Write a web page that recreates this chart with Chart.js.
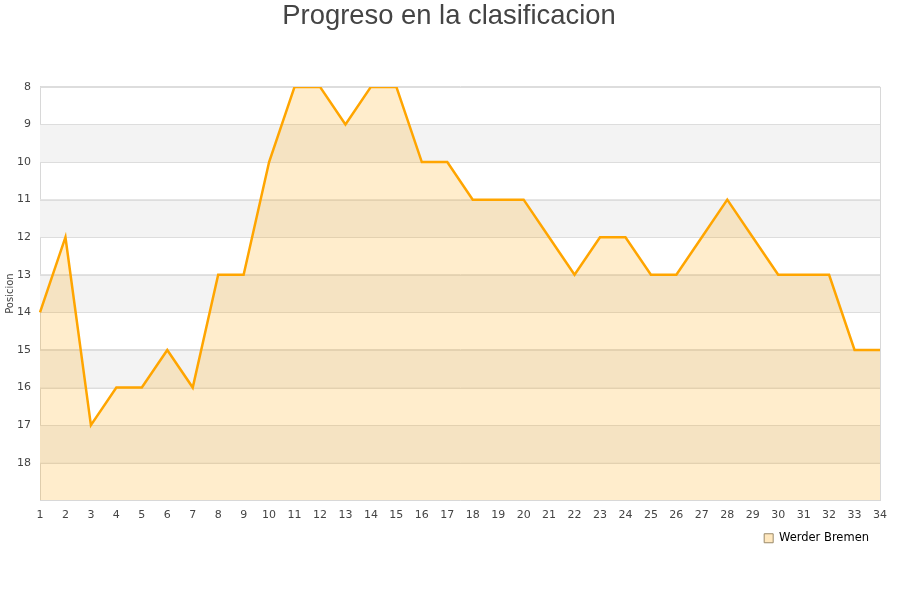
<!DOCTYPE html>
<html>
<head>
<meta charset="utf-8">
<script src="https://cdn.jsdelivr.net/npm/chart.js@4.4.0/dist/chart.umd.min.js"></script>
<style>
  body { margin: 0; background: #fff; }
  #wrap { width: 900px; height: 600px; }
</style>
</head>
<body>
<div id="wrap"><canvas id="graf"></canvas></div>
<script>
// jornadas y posiciones
const jornadas = [1,2,3,4,5,6,7,8,9,10,11,12,13,14,15,16,17,18,19,20,21,22,23,24,25,26,27,28,29,30,31,32,33,34];
const posiciones = [14,12,17,16,16,15,16,13,13,10,8,8,9,8,8,10,10,11,11,11,12,13,12,12,13,13,12,11,12,13,13,13,15,15];
const equipo = 'Werder Bremen';
const posMin = 8;
const posMax = 19;

// bandas grises alternas + borde derecho
const bandas = {
  id: 'bandas',
  beforeDatasetsDraw(chart) {
    const ctx = chart.ctx;
    const y = chart.scales.y;
    const area = chart.chartArea;
    ctx.save();
    ctx.fillStyle = '#f3f3f3';
    for (let v = posMin + 1; v < posMax; v += 2) {
      const y1 = y.getPixelForValue(v);
      const y2 = y.getPixelForValue(v + 1);
      ctx.fillRect(area.left, y1, area.right - area.left, y2 - y1);
    }
    // redibujar lineas de la rejilla encima
    ctx.strokeStyle = '#dddddd';
    ctx.lineWidth = 1;
    for (let v = posMin; v < posMax; v++) {
      const py = Math.round(y.getPixelForValue(v)) + 0.5;
      ctx.beginPath();
      ctx.moveTo(area.left, py);
      ctx.lineTo(area.right, py);
      ctx.stroke();
    }
    ctx.strokeStyle = '#d8d8d8';
    ctx.beginPath();
    ctx.moveTo(Math.round(area.right) + 0.5, area.top);
    ctx.lineTo(Math.round(area.right) + 0.5, area.bottom);
    ctx.stroke();
    ctx.restore();
  }
};

const ctx = document.getElementById('graf').getContext('2d');
const graf = new Chart(ctx, {
  type: 'line',
  data: {
    labels: jornadas,
    datasets: [{
      label: equipo,
      data: posiciones,
      borderColor: '#ffa500',
      backgroundColor: 'rgba(255,165,0,0.2)',
      borderWidth: 2.5,
      pointRadius: 0,
      tension: 0,
      fill: { value: posMax }
    }]
  },
  options: {
    responsive: true,
    maintainAspectRatio: false,
    animation: false,
    layout: { padding: { left: 4, right: 6, top: 0, bottom: 46 } },
    plugins: {
      title: {
        display: true,
        text: 'Progreso en la clasificacion',
        color: '#444',
        font: { family: 'Liberation Sans', size: 27.4, weight: 'normal' },
        padding: { top: 0, bottom: 54 }
      },
      legend: {
        position: 'bottom',
        align: 'end',
        fullSize: false,
        labels: {
          boxWidth: 9,
          boxHeight: 9,
          padding: 11,
          color: '#222',
          font: { family: 'DejaVu Sans', size: 11.5 },
          generateLabels(chart) {
            return [{
              text: equipo,
              fillStyle: 'rgba(255,165,0,0.25)',
              strokeStyle: '#9a8a6a',
              lineWidth: 1,
              datasetIndex: 0
            }];
          }
        }
      },
      tooltip: { enabled: false }
    },
    scales: {
      x: {
        type: 'category',
        offset: false,
        grid: { display: false },
        border: { color: '#d8d8d8' },
        ticks: {
          color: '#444',
          font: { family: 'DejaVu Sans', size: 11 },
          maxRotation: 0,
          autoSkip: false,
          padding: 0
        }
      },
      y: {
        reverse: true,
        min: posMin,
        max: posMax,
        border: { color: '#d8d8d8' },
        grid: { color: '#dddddd', drawTicks: false },
        title: {
          display: true,
          text: 'Posicion',
          color: '#444',
          font: { family: 'DejaVu Sans', size: 10 },
          padding: 0
        },
        ticks: {
          stepSize: 1,
          color: '#444',
          font: { family: 'DejaVu Sans', size: 11 },
          padding: 9,
          callback: function(v) { return v === posMax ? '' : v; }
        },
        afterFit(scale) { scale.width = 36; }
      },
      // margen derecho vacio
      y2: {
        position: 'right',
        min: 0,
        max: 1,
        grid: { display: false },
        border: { display: false },
        ticks: { display: false },
        afterFit(scale) { scale.width = 14; }
      }
    }
  },
  plugins: [bandas]
});
</script>
</body>
</html>
